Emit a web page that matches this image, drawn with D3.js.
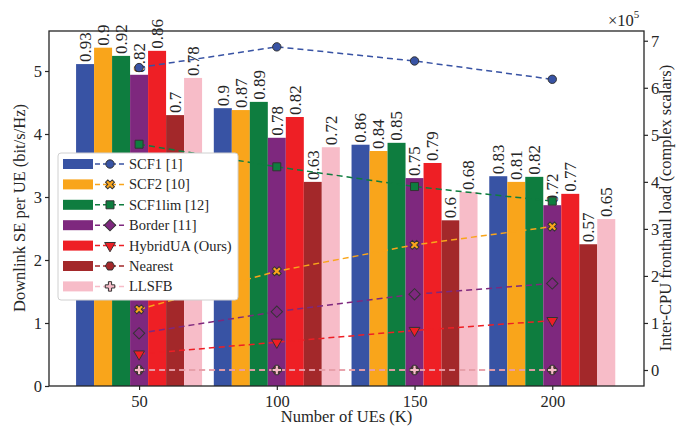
<!DOCTYPE html>
<html>
<head>
<meta charset="utf-8">
<script src="https://cdn.jsdelivr.net/npm/d3@7"></script>
</head>
<body style="margin:0">
<svg id="chart" width="682" height="429"></svg>
<script>
// number of UEs
var ues = [50, 100, 150, 200];
var names = ["SCF1 [1]", "SCF2 [10]", "SCF1lim [12]", "Border [11]", "HybridUA (Ours)", "Nearest", "LLSFB"];
var colors = ["#3853a4", "#f9a51b", "#0e7d3f", "#7e287e", "#ee1f25", "#a3282a", "#f7bcc8"];
var markers = ["circle", "x", "square", "diamond", "triangle", "hexagon", "cross"];

// downlink SE per UE (left axis), one array per scheme
var seSCF1 = [5.11, 4.41, 3.83, 3.33];
var seSCF2 = [5.37, 4.38, 3.73, 3.24];
var seSCF1lim = [5.24, 4.51, 3.86, 3.32];
var seBorder = [4.94, 3.94, 3.30, 2.87];
var seHybrid = [5.32, 4.27, 3.54, 3.05];
var seNearest = [4.30, 3.24, 2.63, 2.25];
var seLLSFB = [4.89, 3.79, 3.08, 2.65];

// labels printed above the bars
var lblSCF1 = ["0.93", "0.9", "0.86", "0.83"];
var lblSCF2 = ["0.9", "0.87", "0.84", "0.81"];
var lblSCF1lim = ["0.92", "0.89", "0.85", "0.82"];
var lblBorder = ["0.82", "0.78", "0.75", "0.72"];
var lblHybrid = ["0.86", "0.82", "0.79", "0.77"];
var lblNearest = ["0.7", "0.63", "0.6", "0.57"];
var lblLLSFB = ["0.78", "0.72", "0.68", "0.65"];

// inter-CPU fronthaul load (right axis), x 10^5
var fhSCF1 = [6.43, 6.87, 6.57, 6.18];
var fhSCF2 = [1.29, 2.10, 2.66, 3.05];
var fhSCF1lim = [4.80, 4.32, 3.90, 3.59];
var fhBorder = [0.78, 1.24, 1.61, 1.84];
var fhHybrid = [0.34, 0.59, 0.84, 1.05];
var fhNearest = [0, 0, 0, 0];
var fhLLSFB = [0, 0, 0, 0];

var leftTicks = [0, 1, 2, 3, 4, 5];
var rightTicks = [0, 1, 2, 3, 4, 5, 6, 7];

var se = [seSCF1, seSCF2, seSCF1lim, seBorder, seHybrid, seNearest, seLLSFB];
var lbl = [lblSCF1, lblSCF2, lblSCF1lim, lblBorder, lblHybrid, lblNearest, lblLLSFB];
var fh = [fhSCF1, fhSCF2, fhSCF1lim, fhBorder, fhHybrid, fhNearest, fhLLSFB];

var L = 49, R = 644, T = 31, B = 386;
var ink = "#262626";
var FONT = "Liberation Serif";

var svg = d3.select("#chart");
var x = d3.scaleLinear().domain([17.3, 233.3]).range([L, R]);
var yL = d3.scaleLinear().domain([0, 5.635]).range([B, T]);
var yR = d3.scaleLinear().domain([-0.34, 7.207]).range([B, T]);
var barW = 18;
var sub = d3.scaleBand().domain(d3.range(names.length)).range([-3.5 * barW, 3.5 * barW]);

// text helper: serif font set on the element itself
function txt(sel) {
  return sel.append("text").style("font-family", FONT).attr("fill", ink);
}

// custom hexagon symbol
var symHex = {
  draw: function(ctx, size) {
    var r = Math.sqrt(size / 2.598);
    for (var i = 0; i < 6; i++) {
      var a = Math.PI / 3 * i;
      if (i === 0) ctx.moveTo(r * Math.cos(a), r * Math.sin(a));
      else ctx.lineTo(r * Math.cos(a), r * Math.sin(a));
    }
    ctx.closePath();
  }
};
function markerPath(m) {
  var s = d3.symbol();
  if (m === "circle") return s.type(d3.symbolCircle).size(55)();
  if (m === "square") return s.type(d3.symbolSquare).size(64)();
  if (m === "diamond") return s.type(d3.symbolSquare).size(64)();
  if (m === "triangle") return s.type(d3.symbolTriangle).size(50)();
  if (m === "hexagon") return s.type(symHex).size(55)();
  return s.type(d3.symbolCross).size(50)();
}
function markerRot(m) {
  if (m === "triangle") return 180;
  if (m === "x" || m === "diamond") return 45;
  return 0;
}

// bars
var bars = svg.append("g");
se.forEach(function(vals, si) {
  var g = bars.append("g");
  g.selectAll("rect").data(vals).enter().append("rect")
    .attr("x", function(d, i) { return x(ues[i]) + sub(si); })
    .attr("y", function(d) { return yL(d); })
    .attr("width", sub.bandwidth())
    .attr("height", function(d) { return yL(0) - yL(d); })
    .attr("fill", colors[si]);
  vals.forEach(function(d, i) {
    txt(g).attr("transform", "translate(" + (x(ues[i]) + sub(si) + barW / 2) + "," + (yL(d) - 2) + ") rotate(-90)")
      .attr("dy", "0.35em")
      .attr("font-size", 17)
      .text(lbl[si][i]);
  });
});

// lines
var line = d3.line().x(function(d, i) { return x(ues[i]); }).y(function(d) { return yR(d); });
fh.forEach(function(vals, si) {
  var g = svg.append("g");
  g.append("path").datum(vals)
    .attr("d", line)
    .attr("fill", "none")
    .attr("stroke", colors[si])
    .attr("stroke-width", 1.5)
    .attr("stroke-dasharray", "6,4");
  g.selectAll("path.mk").data(vals).enter().append("path")
    .attr("class", "mk")
    .attr("d", markerPath(markers[si]))
    .attr("transform", function(d, i) {
      return "translate(" + x(ues[i]) + "," + yR(d) + ") rotate(" + markerRot(markers[si]) + ")";
    })
    .attr("fill", colors[si])
    .attr("stroke", "#333")
    .attr("stroke-width", 1);
});

// axes
var fmt = d3.format("d");
var axL = svg.append("g").attr("transform", "translate(" + L + ",0)")
  .call(d3.axisLeft(yL).tickValues(leftTicks).tickFormat(fmt).tickSize(4).tickPadding(3));
var axR = svg.append("g").attr("transform", "translate(" + R + ",0)")
  .call(d3.axisRight(yR).tickValues(rightTicks).tickFormat(fmt).tickSize(4).tickPadding(3));
var axB = svg.append("g").attr("transform", "translate(0," + B + ")")
  .call(d3.axisBottom(x).tickValues(ues).tickFormat(fmt).tickSize(4).tickPadding(5));
[axL, axR, axB].forEach(function(a) {
  a.attr("font-size", 16.5).attr("font-family", FONT);
  a.select(".domain").remove();
  a.selectAll("line").attr("stroke", ink).attr("stroke-width", 1.2);
  a.selectAll("text").style("font-family", FONT).attr("fill", ink);
});
svg.append("rect").attr("x", L).attr("y", T).attr("width", R - L).attr("height", B - T)
  .attr("fill", "none").attr("stroke", ink).attr("stroke-width", 1.3);

// axis titles
txt(svg).attr("transform", "translate(25,208) rotate(-90)")
  .attr("text-anchor", "middle").attr("font-size", 16.5).text("Downlink SE per UE (bit/s/Hz)");
txt(svg).attr("transform", "translate(671,208) rotate(-90)")
  .attr("text-anchor", "middle").attr("font-size", 16.5).text("Inter-CPU fronthaul load (complex scalars)");
txt(svg).attr("x", (L + R) / 2).attr("y", 422)
  .attr("text-anchor", "middle").attr("font-size", 16.5).text("Number of UEs (K)");
var ex = txt(svg).attr("x", 608).attr("y", 26).attr("font-size", 16.5);
ex.append("tspan").text("\u00d710");
ex.append("tspan").attr("dy", -8).attr("font-size", 11).text("5");

// legend
var leg = svg.append("g");
leg.append("rect").attr("x", 58).attr("y", 153).attr("width", 180).attr("height", 147)
  .attr("rx", 3).attr("fill", "#fff").attr("stroke", "#d0d0d0").attr("stroke-width", 1);
names.forEach(function(n, i) {
  var cy = 164 + i * 20.4;
  leg.append("rect").attr("x", 63).attr("y", cy - 5).attr("width", 30).attr("height", 10).attr("fill", colors[i]);
  leg.append("line").attr("x1", 95).attr("x2", 125).attr("y1", cy).attr("y2", cy)
    .attr("stroke", colors[i]).attr("stroke-width", 1.5).attr("stroke-dasharray", "5,3");
  leg.append("path").attr("d", markerPath(markers[i]))
    .attr("transform", "translate(110," + cy + ") rotate(" + markerRot(markers[i]) + ")")
    .attr("fill", colors[i]).attr("stroke", "#333").attr("stroke-width", 1);
  txt(leg).attr("x", 129).attr("y", cy).attr("dy", "0.35em")
    .attr("font-size", 14.5).text(n);
});
</script>
</body>
</html>
